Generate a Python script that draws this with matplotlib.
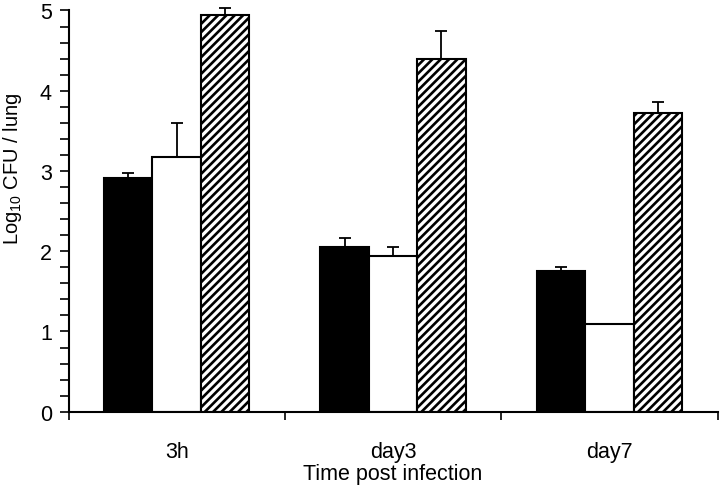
import numpy as np
import matplotlib
matplotlib.use('Agg')
import matplotlib.pyplot as plt

groups = ['3h', 'day3', 'day7']
black_vals = [2.91, 2.05, 1.75]
black_err = [0.07, 0.11, 0.05]
white_vals = [3.18, 1.94, 1.09]
white_err = [0.42, 0.11, 0.0]
hatch_vals = [4.95, 4.39, 3.72]
hatch_err = [0.08, 0.36, 0.14]

plt.rcParams['font.family'] = ['Liberation Sans', 'DejaVu Sans']
plt.rcParams['mathtext.fontset'] = 'custom'
plt.rcParams['mathtext.rm'] = 'Liberation Sans'
plt.rcParams['hatch.linewidth'] = 1.9

fig = plt.figure(figsize=(7.2, 4.89), dpi=100)
ax = fig.add_axes([68.5 / 720, 76.3 / 489, 649 / 720, 401.2 / 489])

x = np.arange(len(groups)) + 0.5
w = 0.224
series = [
    (black_vals, black_err, -w, dict(color='black', edgecolor='black')),
    (white_vals, white_err, 0, dict(color='white', edgecolor='black')),
    (hatch_vals, hatch_err, w, dict(color='white', edgecolor='black', hatch='////')),
]
for vals, err, off, style in series:
    ax.bar(x + off, vals, w, linewidth=1.5, zorder=2, **style)
    errs = np.array(err)
    eb = ax.errorbar(x + off, vals, yerr=[np.zeros_like(errs), errs], fmt='none',
                     ecolor='black', elinewidth=1.3, capsize=4.3, capthick=1.3, zorder=1)
    for art in eb.lines[1] + eb.lines[2]:
        art.set_clip_on(False)

ax.set_xlim(0, 3)
ax.set_ylim(0, 5)
ax.spines['top'].set_visible(False)
ax.spines['right'].set_visible(False)
ax.spines['left'].set_linewidth(1.5)
ax.spines['bottom'].set_linewidth(1.5)

ax.set_yticks(np.arange(0, 6, 1))
ax.set_yticks(np.arange(0, 5.01, 0.2), minor=True)
ax.tick_params(axis='y', which='both', length=6.5, width=1.2, labelsize=15.5, pad=5.5)

ax.set_xticks([0, 1, 2, 3])
ax.set_xticklabels([])
ax.set_xticks(x, minor=True)
ax.set_xticklabels(groups, minor=True)
ax.tick_params(axis='x', which='major', length=6, width=1.2)
ax.tick_params(axis='x', which='minor', length=0, labelsize=15.5, pad=21)

ax.set_xlabel('Time post infection', fontsize=15.5, labelpad=1)
ax.set_ylabel(r'Log$_\mathrm{10}$ CFU / lung', fontsize=14.5)
ax.yaxis.set_label_coords(-0.068, 0.607)

fig.savefig('out.png', dpi=100)
